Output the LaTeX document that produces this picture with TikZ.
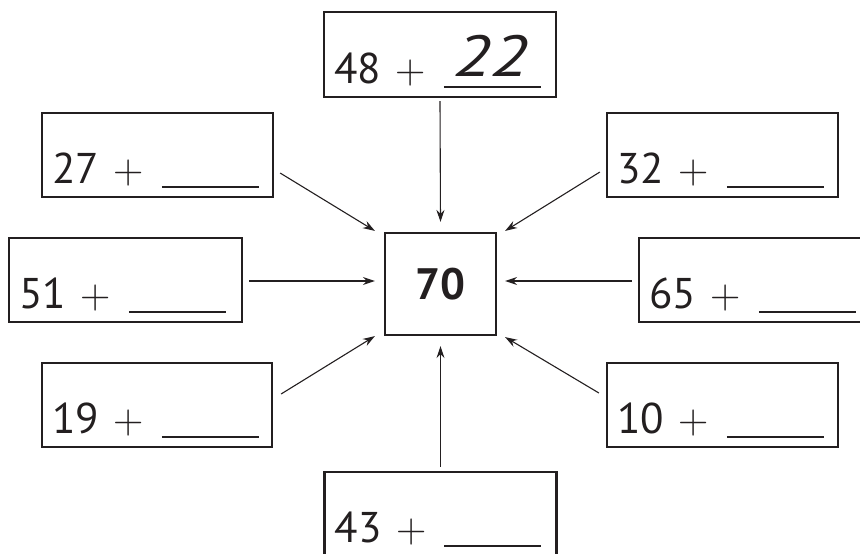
\documentclass[tikz,border=0pt]{standalone}
\usepackage{fontspec}
\setmainfont{PT Sans}
\newfontfamily\plusfont{Latin Modern Roman}
\usetikzlibrary{arrows.meta}
\definecolor{ink}{HTML}{231F20}
\tikzset{
  qbox/.style={draw=ink, line width=2.2pt, minimum width=231pt, minimum height=84pt, inner sep=0pt},
  cbox/.style={draw=ink, line width=2.2pt, minimum width=111pt, minimum height=102pt, inner sep=0pt,
    font=\fontsize{44}{50}\selectfont\bfseries, text=ink},
  numtxt/.style={anchor=base west, inner sep=0pt, text=ink, font=\fontsize{43}{50}\selectfont},
  plustxt/.style={anchor=base, inner sep=0pt, text=ink, font=\fontsize{42}{50}\plusfont},
  anstxt/.style={anchor=base, inner sep=0pt, text=ink, font=\fontsize{58}{60}\selectfont\itshape},
  blank/.style={draw=ink, line width=1.3pt},
  arr/.style={draw=ink, line width=1.1pt, -{Stealth[length=12pt,width=8pt]}}
}
\newcommand{\eqbox}[2]{%
  \node[numtxt] (#1n) at ([shift={(11,-15)}]#1.south west) {#2};
  \node[plustxt] (#1p) at ([shift={(88,-15)}]#1.south west) {+};
  \draw[blank] ([shift={(121,-11)}]#1.south west) -- ([shift={(218,-11)}]#1.south west);%
}
\begin{document}
\begin{tikzpicture}[x=1pt,y=-1pt]
\useasboundingbox (0,0) rectangle (860,554);
\clip (0,0) rectangle (860,554);
\node[qbox, minimum width=232pt, minimum height=85pt] (b48) at (440,54.5) {};
\node[qbox] (b27) at (157.5,155) {};
\node[qbox] (b32) at (722.5,155) {};
\node[qbox, minimum width=233pt] (b51) at (125.5,280) {};
\node[qbox] (b65) at (754.5,280) {};
\node[qbox, minimum width=230pt] (b19) at (157,405) {};
\node[qbox] (b10) at (722.5,405) {};
\node[qbox, minimum width=232pt] (b43) at (440.5,514) {};
\node[cbox] (b70) at (440.5,284) {70};

\eqbox{b48}{48}
\eqbox{b27}{27}
\eqbox{b32}{32}
\eqbox{b51}{51}
\eqbox{b65}{65}
\eqbox{b19}{19}
\eqbox{b10}{10}
\eqbox{b43}{43}
\node[anstxt] (ans) at ([shift={(168,-22)}]b48.south west) {\scalebox{1.25}[1]{22}};

\draw[arr] ([shift={(0,3)}]b48.south) -- ([shift={(0,-10)}]b70.north);
\draw[arr] ([shift={(0,-4)}]b43.north) -- ([shift={(0,10)}]b70.south);
\draw[arr] ([shift={(6,18)}]b27.east) -- ([shift={(-9,-1)}]b70.north west);
\draw[arr] ([shift={(-6,17)}]b32.west) -- ([shift={(8,-1)}]b70.north east);
\draw[arr] ([shift={(6,1)}]b51.east) -- ([shift={(-9,-3)}]b70.west);
\draw[arr] ([shift={(-6,1)}]b65.west) -- ([shift={(8,-3)}]b70.east);
\draw[arr] ([shift={(8,-11)}]b19.east) -- ([shift={(-9,0)}]b70.south west);
\draw[arr] ([shift={(-7,-12)}]b10.west) -- ([shift={(8,1)}]b70.south east);
\end{tikzpicture}
\end{document}
